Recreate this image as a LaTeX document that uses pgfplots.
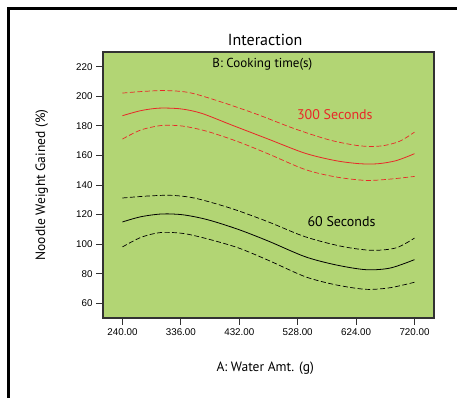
\documentclass[border=0pt]{standalone}
\usepackage{fontspec}
\setmainfont{PT Sans}
\newfontfamily\tickfont{Liberation Sans}
\usepackage{pgfplots}
\usetikzlibrary{calc}
\pgfplotsset{compat=1.18}
\definecolor{bggreen}{RGB}{178,213,116}
\definecolor{curvered}{RGB}{232,40,40}
\definecolor{axisgray}{RGB}{50,50,50}
\begin{document}
\begin{tikzpicture}[x=1pt,y=1pt]
\begin{axis}[
  scale only axis, width=331pt, height=266pt,
  xmin=208, xmax=752, ymin=50, ymax=230,
  axis background/.style={fill=bggreen},
  axis line style={axisgray, line width=1.2pt},
  xtick={240,336,432,528,624,720},
  xticklabels={240.00,336.00,432.00,528.00,624.00,720.00},
  ytick={60,80,...,220},
  tick align=outside, tick pos=left,
  major tick length=7pt,
  tick style={axisgray, line width=0.9pt},
  /pgf/number format/assume math mode=true,
  tick label style={font=\tickfont\fontsize{9.8}{11}\selectfont, text=black},
  title={Interaction},
  title style={font=\fontsize{16}{18}\selectfont, at={(axis description cs:0.49,1.0)}, anchor=south, yshift=-3pt},
  xlabel={A: Water Amt. (g)},
  ylabel={Noodle Weight Gained (\%)},
  xlabel style={font=\fontsize{13.5}{15}\selectfont, at={(axis description cs:0.49,-0.19)}, anchor=center},
  ylabel style={font=\fontsize{13.5}{15}\selectfont, at={(axis description cs:-0.185,0.5)}, anchor=center, rotate=0},
  clip=false,
]
\coordinate (LL) at (rel axis cs:0,0);
% 300 seconds
\addplot[curvered, line width=0.8pt, smooth] coordinates {(240,186.9)(270,190.3)(300,192.0)(336,191.5)(370,188.5)(420,180.5)(480,171)(540,161.5)(590,156.5)(630,154.4)(660,154.4)(690,156.5)(720,161.2)};
\addplot[curvered, line width=0.7pt, smooth, dash pattern=on 5pt off 2.5pt] coordinates {(240,202.2)(270,203.2)(310,203.9)(350,202.5)(400,196.5)(460,188)(520,178.5)(580,170.5)(630,166.5)(665,166.4)(695,169.5)(720,175.8)};
\addplot[curvered, line width=0.7pt, smooth, dash pattern=on 5pt off 2.5pt] coordinates {(240,171.1)(270,177.2)(305,180.3)(340,179.8)(380,176.2)(430,169.3)(480,161)(540,150.5)(590,145.5)(640,143.1)(680,144)(720,145.8)};
% 60 seconds
\addplot[black, line width=0.8pt, smooth] coordinates {(240,115)(270,118.5)(305,120.4)(340,119.8)(380,116.5)(430,110)(480,102)(540,91.5)(590,86)(640,82.7)(680,83.8)(720,89.5)};
\addplot[black, line width=0.7pt, smooth, dash pattern=on 5pt off 2.5pt] coordinates {(240,131.2)(280,132.5)(320,133)(360,131)(420,124)(480,115)(540,105)(600,98.5)(650,95.8)(690,97.5)(720,104.1)};
\addplot[black, line width=0.7pt, smooth, dash pattern=on 5pt off 2.5pt] coordinates {(240,98.1)(270,104.5)(302,107.8)(340,107.2)(380,103.5)(430,97.5)(480,89)(540,78)(590,72.5)(640,69.4)(680,70.5)(720,74.2)};
\node[font=\fontsize{13}{15}\selectfont] at (axis cs:470,222) {B: Cooking time(s)};
\node[font=\fontsize{14}{16}\selectfont, text=curvered] at (axis cs:589,187.5) {300 Seconds};
\node[font=\fontsize{14}{16}\selectfont, text=black] at (axis cs:600,115.4) {60 Seconds};
\end{axis}
\draw[line width=2.6pt, black] ($(LL)+(-94.5,-90)$) -- ($(LL)+(-94.5,309.5)$) -- ($(LL)+(370,309.5)$);
\pgfresetboundingbox
\path[use as bounding box] ($(LL)+(-103,-80)$) rectangle ($(LL)+(354,318)$);
\end{tikzpicture}
\end{document}
